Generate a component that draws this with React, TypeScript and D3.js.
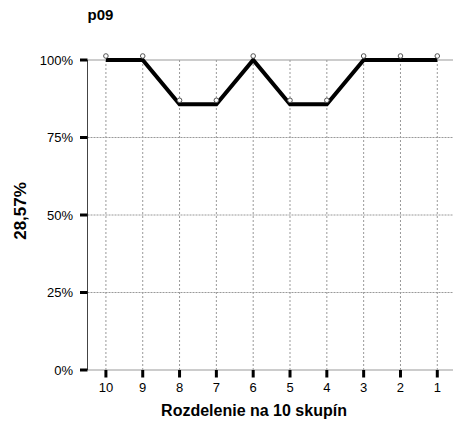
import React from "react";
import * as d3 from "d3";

const categories = ["10", "9", "8", "7", "6", "5", "4", "3", "2", "1"];
const values = [1, 1, 0.8571, 0.8571, 1, 0.8571, 0.8571, 1, 1, 1];
const yTicks = [0, 0.25, 0.5, 0.75, 1];
const title = "p09";
const yLabel = "28,57%";
const xLabel = "Rozdelenie na 10 skupín";

export default function App() {
  const W = 453, H = 427;
  const left = 87.5, right = 455.7, top = 60, bottom = 370;
  const x = d3.scaleBand<string>().domain(categories).range([left, right]);
  const y = d3.scaleLinear().domain([0, 1]).range([bottom, top]);
  const cx = (c: string) => (x(c) as number) + x.bandwidth() / 2;
  const line = d3.line<number>()
    .x((_, i) => cx(categories[i]))
    .y((d) => y(d));
  const font = "Liberation Sans, Arial, sans-serif";
  return (
    <svg width={W} height={H} style={{ position: "absolute", left: 0, top: 0, background: "#fff" }}>
      <text x={87.5} y={19.5} fontFamily={font} fontWeight="bold" fontSize={15}>{title}</text>
      {categories.map((c) => (
        <line key={"vg" + c} x1={cx(c)} x2={cx(c)} y1={top} y2={bottom} stroke="#999" strokeWidth={1} strokeDasharray="2,2" />
      ))}
      {yTicks.map((t) => (
        <line key={"hg" + t} x1={left} x2={right} y1={y(t)} y2={y(t)} stroke="#999"
          strokeWidth={1} strokeDasharray={t === 0 || t === 1 ? undefined : "2,1"} />
      ))}
      <line x1={left} x2={left} y1={top} y2={bottom} stroke="#444" strokeWidth={1} />
      {yTicks.map((t) => (
        <g key={"yt" + t}>
          <line x1={80} x2={left} y1={y(t)} y2={y(t)} stroke="#000" strokeWidth={3} />
          <text x={73} y={y(t)} dy="0.35em" textAnchor="end" fontFamily={font} fontSize={13}>{d3.format(".0%")(t)}</text>
        </g>
      ))}
      {categories.map((c) => (
        <g key={"xt" + c}>
          <line x1={cx(c)} x2={cx(c)} y1={bottom} y2={bottom + 7.5} stroke="#000" strokeWidth={3} />
          <text x={cx(c)} y={392} textAnchor="middle" fontFamily={font} fontSize={13}>{c}</text>
        </g>
      ))}
      <path d={line(values) || ""} fill="none" stroke="#000" strokeWidth={4} strokeLinejoin="miter" />
      {values.map((v, i) => (
        <circle key={"pt" + i} cx={cx(categories[i])} cy={y(v) - 4} r={2.3} fill="#fff" stroke="#555" strokeWidth={1} />
      ))}
      <text transform="translate(26,211) rotate(-90)" textAnchor="middle" fontFamily={font} fontWeight="bold" fontSize={17}>{yLabel}</text>
      <text x={254} y={416} textAnchor="middle" fontFamily={font} fontWeight="bold" fontSize={16}>{xLabel}</text>
    </svg>
  );
}
